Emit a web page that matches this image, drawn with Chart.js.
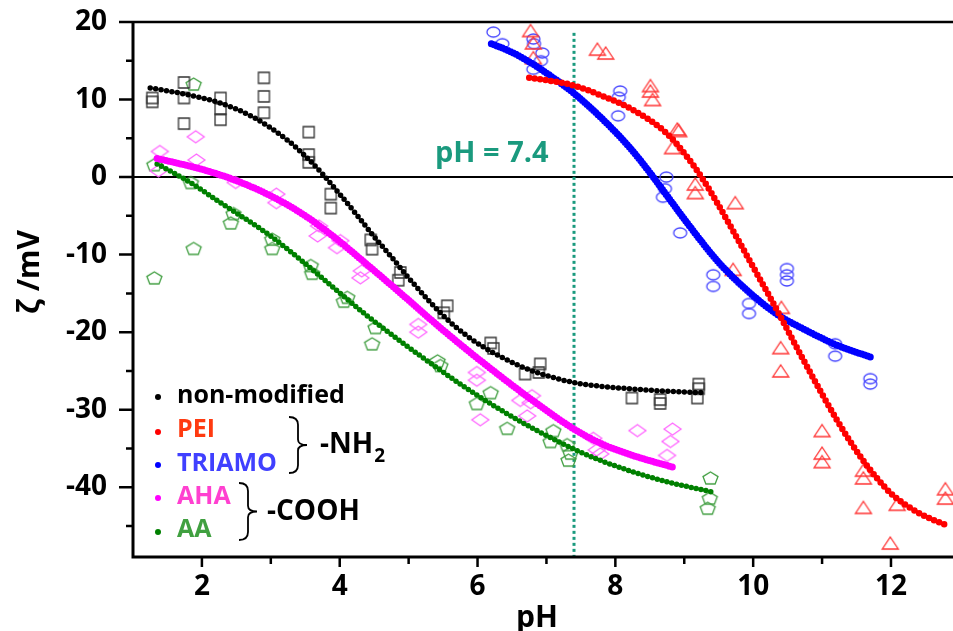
<!DOCTYPE html>
<html>
<head>
<meta charset="utf-8">
<script src="https://cdn.jsdelivr.net/npm/chart.js@4.4.0/dist/chart.umd.min.js"></script>
<style>
  html, body { margin: 0; padding: 0; background: #fff; }
  #wrap { width: 953px; height: 631px; }
</style>
</head>
<body>
<div id="wrap"><canvas id="zeta" width="953" height="631"></canvas></div>
<script>
// fitted curves
const fitNonModX = [1.25, 1.75, 2.25, 2.75, 3.25, 3.5, 3.75, 4.0, 4.25, 4.5, 4.75, 5.0, 5.3, 5.6, 5.85, 6.1, 6.6, 7.0, 7.4, 7.8, 8.2, 8.7, 9.25];
const fitNonModY = [11.5, 10.7, 9.6, 7.7, 4.7, 2.7, 0.4, -2.2, -4.9, -7.7, -10.3, -13.0, -16.0, -18.7, -20.5, -22.0, -24.3, -25.6, -26.5, -27.0, -27.3, -27.6, -27.8];

const fitPeiX = [6.75, 7.0, 7.4, 7.8, 8.25, 8.75, 9.05, 9.25, 9.45, 9.7, 10.0, 10.25, 10.45, 10.7, 11.0, 11.2, 11.4, 11.65, 12.0, 12.4, 12.8];
const fitPeiY = [12.8, 12.5, 11.8, 10.5, 8.7, 5.6, 2.5, 0.0, -2.9, -6.8, -11.6, -15.6, -18.9, -23.1, -28.0, -31.1, -34.0, -37.2, -40.8, -43.3, -44.9];

const fitTriamoX = [6.2, 6.5, 6.8, 7.1, 7.4, 7.8, 8.2, 8.5, 8.75, 9.05, 9.5, 9.95, 10.35, 10.8, 11.25, 11.7];
const fitTriamoY = [17.2, 16.1, 14.6, 12.8, 10.8, 7.6, 3.9, 0.6, -2.4, -6.0, -11.0, -14.9, -17.7, -19.9, -21.8, -23.2];

const fitAhaX = [1.35, 2.0, 2.45, 2.95, 3.45, 3.9, 4.4, 4.9, 5.35, 5.85, 6.35, 6.8, 7.4, 7.8, 8.25, 8.83];
const fitAhaY = [2.4, 1.0, -0.3, -2.2, -4.7, -7.6, -11.3, -15.1, -18.6, -22.3, -25.8, -28.8, -32.5, -34.4, -35.9, -37.4];

const fitAaX = [1.35, 1.85, 2.25, 2.65, 2.95, 3.45, 3.9, 4.4, 4.9, 5.35, 5.85, 6.35, 6.8, 7.4, 7.8, 8.25, 8.75, 9.4];
const fitAaY = [1.7, -0.8, -3.2, -5.5, -7.3, -10.8, -14.2, -17.9, -21.3, -24.2, -27.3, -30.1, -32.4, -35.1, -36.6, -38.0, -39.3, -40.6];

// measured points
const nonModX = [1.28, 1.28, 1.74, 1.74, 1.74, 2.27, 2.27, 2.27, 2.90, 2.90, 2.90, 3.55, 3.55, 3.55, 3.87, 3.87, 4.45, 4.47, 4.88, 4.85, 5.56, 5.51, 6.19, 6.23, 6.91, 6.89, 6.69, 8.24, 8.65, 8.65, 9.21, 9.21, 9.19];
const nonModY = [10.2, 9.7, 12.2, 10.2, 6.9, 10.2, 8.8, 7.4, 12.8, 10.4, 8.3, 5.8, 2.9, 1.9, -2.2, -4.0, -8.1, -9.3, -12.3, -13.3, -16.6, -17.5, -21.4, -22.1, -24.1, -25.2, -25.4, -28.5, -28.7, -29.2, -26.7, -27.3, -28.5];

const peiX = [6.77, 6.81, 6.81, 7.74, 7.86, 8.51, 8.51, 8.54, 8.90, 8.92, 8.83, 9.16, 9.16, 9.74, 9.71, 10.41, 10.40, 10.40, 11.0, 11.0, 11.0, 11.6, 11.6, 11.6, 12.09, 11.99, 12.79, 12.79];
const peiY = [18.9, 17.3, 15.4, 16.5, 16.0, 11.8, 11.1, 10.0, 6.2, 6.0, 3.8, -0.9, -2.0, -3.3, -11.9, -16.8, -22.0, -25.0, -32.7, -35.6, -36.7, -37.8, -38.8, -42.6, -42.2, -47.2, -40.2, -41.4];

const triamoX = [6.23, 6.36, 6.81, 6.82, 6.94, 6.92, 6.81, 8.07, 8.05, 8.04, 8.74, 8.72, 8.69, 8.94, 9.42, 9.42, 9.94, 9.94, 10.49, 10.49, 10.49, 11.19, 11.19, 11.7, 11.7];
const triamoY = [18.7, 17.2, 17.8, 17.2, 16.0, 15.0, 13.9, 11.1, 10.3, 7.9, 0.0, -1.5, -2.6, -7.2, -12.6, -14.1, -16.3, -17.6, -11.8, -12.6, -13.4, -21.5, -23.1, -26.0, -26.7];

const ahaX = [1.39, 1.37, 1.91, 1.92, 2.49, 3.08, 3.08, 3.70, 3.68, 4.01, 3.96, 4.32, 4.30, 5.14, 5.14, 5.99, 5.99, 6.79, 6.77, 6.62, 6.04, 6.72, 7.68, 7.73, 8.32, 8.83, 8.80, 8.75, 7.78];
const ahaY = [3.3, 0.8, 5.2, 2.2, -0.7, -2.2, -3.3, -6.3, -7.6, -8.2, -9.1, -12.1, -13.0, -19.0, -20.0, -25.2, -26.2, -28.2, -29.1, -28.8, -31.3, -30.8, -33.7, -35.2, -32.7, -32.5, -34.1, -35.9, -35.7];

const aaX = [1.88, 1.31, 1.84, 1.31, 1.88, 2.42, 2.46, 3.02, 3.02, 3.58, 3.60, 4.11, 4.06, 4.52, 4.47, 5.42, 5.46, 6.19, 5.99, 6.43, 7.10, 7.06, 7.30, 7.35, 7.32, 9.38, 9.37, 9.34];
const aaY = [12.0, 1.6, -0.7, -13.0, -9.2, -5.9, -4.7, -8.0, -9.2, -11.4, -12.4, -15.5, -16.0, -19.4, -21.5, -23.7, -24.3, -27.8, -29.2, -32.4, -32.7, -34.1, -34.5, -35.6, -36.5, -38.8, -41.4, -42.7];

const xTicks = [2, 4, 6, 8, 10, 12];
const xMinor = [3, 5, 7, 9, 11];
const yTicks = [-40, -30, -20, -10, 0, 10, 20];
const yMinor = [-45, -35, -25, -15, -5, 5, 15];

const legendLabels = ['non-modified', 'PEI', 'TRIAMO', 'AHA', 'AA'];
const phMark = 7.4;

const curveColors = ['#000000', '#ff0000', '#0000ff', '#ff00ff', '#008000'];
const labelColors = ['#000000', '#ff3a10', '#4040ff', '#ff40d0', '#40a040'];
const TEAL = '#1a9a7e';
const FONT = "'Open Sans', 'DejaVu Sans', sans-serif";

function pts(xs, ys) {
    return xs.map((x, i) => ({ x: x, y: ys[i] }));
}

// open marker drawn on a small canvas
function marker(w, h, color, shape) {
    let c = document.createElement('canvas');
    c.width = w + 4;
    c.height = h + 4;
    let g = c.getContext('2d');
    let cx = c.width / 2, cy = c.height / 2, rx = w / 2, ry = h / 2;
    g.strokeStyle = color;
    g.lineWidth = 1.3;
    g.beginPath();
    if (shape === 'square') {
        g.rect(cx - rx, cy - ry, w, h);
    } else if (shape === 'triangle') {
        g.moveTo(cx, cy - ry);
        g.lineTo(cx + rx, cy + ry);
        g.lineTo(cx - rx, cy + ry);
    } else if (shape === 'ellipse') {
        g.ellipse(cx, cy, rx, ry, 0, 0, Math.PI * 2);
    } else if (shape === 'diamond') {
        g.moveTo(cx - rx, cy);
        g.lineTo(cx, cy - ry);
        g.lineTo(cx + rx, cy);
        g.lineTo(cx, cy + ry);
    } else if (shape === 'pentagon') {
        let r1 = w / 1.902, r2 = h / 1.809;
        let oy = cy + 0.095 * r2;
        for (let k = 0; k < 5; k++) {
            let a = -Math.PI / 2 + k * 2 * Math.PI / 5;
            let px = cx + r1 * Math.cos(a), py = oy + r2 * Math.sin(a);
            if (k === 0) g.moveTo(px, py); else g.lineTo(px, py);
        }
    }
    g.closePath();
    g.stroke();
    return c;
}

function curve(xs, ys, color, width, gap) {
    return {
        data: pts(xs, ys),
        showLine: true,
        borderColor: color,
        borderWidth: width,
        borderDash: [0, gap],
        borderCapStyle: 'round',
        cubicInterpolationMode: 'monotone',
        pointRadius: 0,
        fill: false
    };
}

function scatter(xs, ys, style) {
    return {
        data: pts(xs, ys),
        showLine: false,
        pointStyle: style,
        pointRadius: 6
    };
}

function drawBrace(ctx, x0, yTop, yBot, w) {
    let h = yBot - yTop, ym = (yTop + yBot) / 2, xc = x0 + w * 0.5;
    ctx.beginPath();
    ctx.moveTo(x0, yTop);
    ctx.quadraticCurveTo(xc, yTop, xc, yTop + h * 0.14);
    ctx.lineTo(xc, ym - h * 0.1);
    ctx.quadraticCurveTo(xc, ym, x0 + w, ym);
    ctx.quadraticCurveTo(xc, ym, xc, ym + h * 0.1);
    ctx.lineTo(xc, yBot - h * 0.14);
    ctx.quadraticCurveTo(xc, yBot, x0, yBot);
    ctx.stroke();
}

const decor = {
    id: 'decor',
    beforeDatasetsDraw(chart) {
        let { ctx, chartArea: a, scales: { x, y } } = chart;
        ctx.save();
        let y0 = y.getPixelForValue(0);
        ctx.strokeStyle = '#000';
        ctx.lineWidth = 2;
        ctx.beginPath();
        ctx.moveTo(a.left, y0);
        ctx.lineTo(a.right, y0);
        ctx.stroke();

        let xm = x.getPixelForValue(phMark);
        ctx.strokeStyle = TEAL;
        ctx.lineWidth = 3;
        ctx.setLineDash([3, 3]);
        ctx.beginPath();
        ctx.moveTo(xm, y.getPixelForValue(18.6));
        ctx.lineTo(xm, a.bottom);
        ctx.stroke();
        ctx.restore();
    },
    afterDraw(chart) {
        let { ctx, chartArea: a, scales: { x, y } } = chart;
        ctx.save();
        ctx.strokeStyle = '#000';

        // frame
        ctx.lineWidth = 3;
        ctx.beginPath();
        ctx.moveTo(a.left, a.top);
        ctx.lineTo(a.left, a.bottom + 1.5);
        ctx.moveTo(a.left - 1.5, a.bottom);
        ctx.lineTo(a.right, a.bottom);
        ctx.stroke();
        ctx.lineWidth = 2.5;
        ctx.beginPath();
        ctx.moveTo(a.left, a.top);
        ctx.lineTo(a.right, a.top);
        ctx.stroke();

        // ticks
        ctx.lineWidth = 2.5;
        ctx.beginPath();
        yTicks.forEach(v => { let p = y.getPixelForValue(v); ctx.moveTo(a.left - 14, p); ctx.lineTo(a.left, p); });
        yMinor.forEach(v => { let p = y.getPixelForValue(v); ctx.moveTo(a.left - 7, p); ctx.lineTo(a.left, p); });
        xTicks.forEach(v => { let p = x.getPixelForValue(v); ctx.moveTo(p, a.bottom); ctx.lineTo(p, a.bottom + 10); });
        xMinor.forEach(v => { let p = x.getPixelForValue(v); ctx.moveTo(p, a.bottom); ctx.lineTo(p, a.bottom + 7); });
        ctx.stroke();

        // axis titles
        ctx.fillStyle = '#000';
        ctx.font = 'bold 30px ' + FONT;
        ctx.textAlign = 'center';
        ctx.textBaseline = 'alphabetic';
        ctx.fillText('pH', 537, 627);
        ctx.save();
        ctx.translate(39, 272);
        ctx.rotate(-Math.PI / 2);
        ctx.fillText('ζ /mV', 0, 0);
        ctx.restore();

        // pH = 7.4 note
        ctx.textAlign = 'left';
        ctx.fillStyle = TEAL;
        ctx.font = 'bold 29px ' + FONT;
        ctx.fillText('pH = 7.4', 435, 162);

        // legend
        let baselines = [403, 437, 471, 504, 537];
        let dots = [397, 432, 465, 498, 532];
        ctx.font = 'bold 25px ' + FONT;
        legendLabels.forEach((lab, i) => {
            ctx.fillStyle = curveColors[i];
            ctx.beginPath();
            ctx.arc(158, dots[i], 3, 0, Math.PI * 2);
            ctx.fill();
            ctx.fillStyle = labelColors[i];
            ctx.fillText(lab, 177, baselines[i]);
        });

        ctx.strokeStyle = '#000';
        ctx.lineWidth = 1.8;
        drawBrace(ctx, 289, 417, 473, 18);
        drawBrace(ctx, 239, 483, 540, 18);

        ctx.fillStyle = '#000';
        ctx.font = 'bold 28px ' + FONT;
        ctx.fillText('-NH', 320, 453);
        let wNH = ctx.measureText('-NH').width;
        ctx.font = 'bold 19px ' + FONT;
        ctx.fillText('2', 320 + wNH + 1, 462);
        ctx.font = 'bold 28px ' + FONT;
        ctx.fillText('-COOH', 267, 520);
        ctx.restore();
    }
};

const ctx = document.getElementById('zeta').getContext('2d');
new Chart(ctx, {
    type: 'scatter',
    data: {
        datasets: [
            curve(fitNonModX, fitNonModY, curveColors[0], 5.5, 5.5),
            curve(fitPeiX, fitPeiY, curveColors[1], 6.5, 5.5),
            curve(fitTriamoX, fitTriamoY, curveColors[2], 7, 3),
            curve(fitAhaX, fitAhaY, curveColors[3], 7, 3),
            curve(fitAaX, fitAaY, curveColors[4], 5.5, 5),
            scatter(nonModX, nonModY, marker(11, 11, '#333333', 'square')),
            scatter(peiX, peiY, marker(16, 12, '#ff3333', 'triangle')),
            scatter(triamoX, triamoY, marker(13, 10, '#4444ff', 'ellipse')),
            scatter(ahaX, ahaY, marker(17, 12, '#ff66ff', 'diamond')),
            scatter(aaX, aaY, marker(15, 12, '#44a044', 'pentagon'))
        ]
    },
    options: {
        responsive: false,
        animation: false,
        layout: { autoPadding: false, padding: { top: 22, right: 0, left: 0, bottom: 0 } },
        plugins: { legend: { display: false }, tooltip: { enabled: false } },
        scales: {
            x: {
                type: 'linear',
                min: 1.0,
                max: 12.9,
                grid: { display: false, drawTicks: true, tickLength: 11 },
                border: { display: false },
                afterBuildTicks: s => { s.ticks = xTicks.map(v => ({ value: v })); },
                afterFit: s => { s.height = 74; },
                ticks: {
                    padding: 2,
                    color: '#000',
                    font: { family: FONT, size: 28, weight: 'bold' }
                }
            },
            y: {
                type: 'linear',
                min: -49,
                max: 20,
                grid: { display: false, drawTicks: true, tickLength: 24 },
                border: { display: false },
                afterBuildTicks: s => { s.ticks = yTicks.map(v => ({ value: v })); },
                afterFit: s => { s.width = 133; },
                ticks: {
                    padding: 2,
                    color: '#000',
                    font: { family: FONT, size: 28, weight: 'bold' }
                }
            }
        }
    },
    plugins: [decor]
});
</script>
</body>
</html>
